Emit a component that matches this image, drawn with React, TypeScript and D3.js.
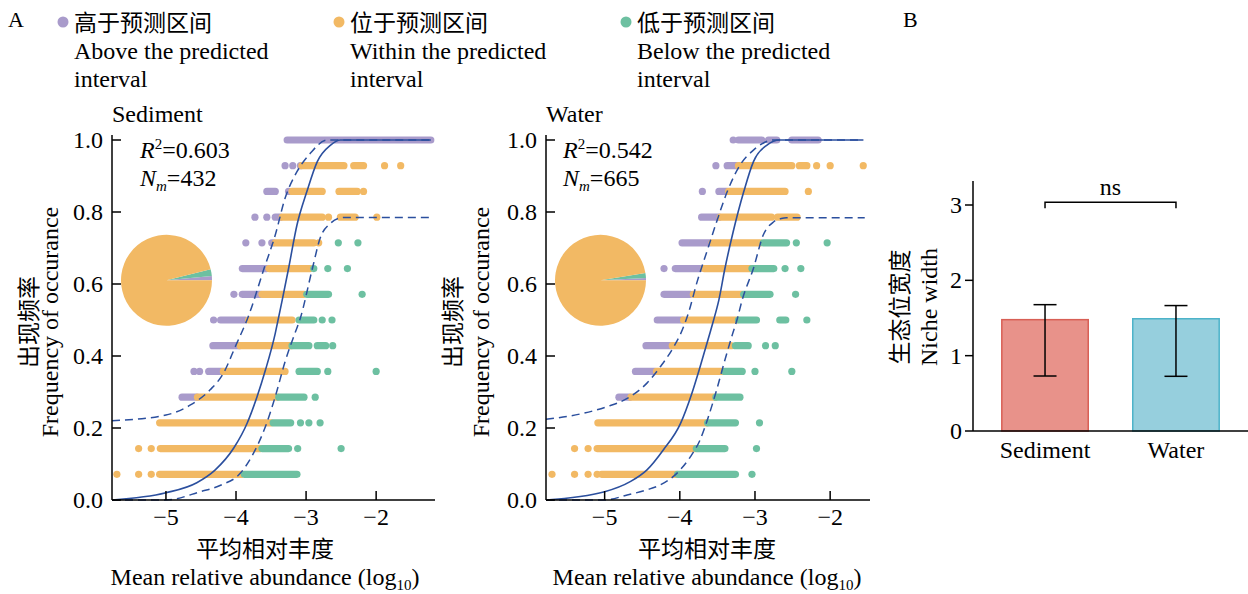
import React from "react";
import * as d3 from "d3";

// ---------------- DATA ----------------
const SAMPLES = 14; // occurrence frequency = k / SAMPLES
// runs: [k, x0, x1] — log10 mean relative abundance extents of dot runs in row k
const sedAbove: [number, number, number][] = [
  [4, -4.77, -4.56],
  [5, -4.6, -4.6], [5, -4.52, -4.52], [5, -4.39, -4.2],
  [6, -4.33, -3.96],
  [7, -4.32, -4.32], [7, -4.22, -3.87],
  [8, -4.03, -4.03], [8, -3.91, -3.65],
  [9, -3.91, -3.56],
  [10, -3.86, -3.86], [10, -3.63, -3.63], [10, -3.49, -3.47],
  [11, -3.73, -3.73], [11, -3.56, -3.56], [11, -3.44, -3.37],
  [12, -3.56, -3.44], [12, -3.25, -3.25],
  [13, -3.3, -3.3], [13, -3.19, -3.19], [13, -3.08, -3.08],
  [14, -3.27, -1.22],
];
const sedWithin: [number, number, number][] = [
  [1, -5.7, -5.7], [1, -5.39, -5.39], [1, -5.21, -5.21], [1, -5.09, -3.91],
  [2, -5.39, -5.39], [2, -5.21, -5.21], [2, -5.08, -3.65],
  [3, -5.09, -3.5],
  [4, -4.55, -3.41],
  [5, -4.18, -3.3],
  [6, -3.94, -3.22],
  [7, -3.82, -3.2],
  [8, -3.63, -3.03],
  [9, -3.53, -2.94],
  [10, -3.44, -2.89], [10, -2.82, -2.82],
  [11, -3.34, -2.77], [11, -2.68, -2.68], [11, -2.51, -2.3], [11, -1.99, -1.99],
  [12, -3.2, -2.77], [12, -2.53, -2.27], [12, -2.18, -2.18],
  [13, -3.06, -2.46], [13, -2.32, -2.18], [13, -1.88, -1.88], [13, -1.65, -1.65],
];
const sedBelow: [number, number, number][] = [
  [1, -3.88, -3.13],
  [2, -3.63, -3.25], [2, -3.12, -3.12], [2, -2.5, -2.5],
  [3, -3.47, -3.22], [3, -3.08, -3.08], [3, -2.96, -2.96], [3, -2.8, -2.8],
  [4, -3.39, -3.03], [4, -2.87, -2.87],
  [5, -3.1, -2.84], [5, -2.69, -2.69], [5, -2.0, -2.0],
  [6, -3.2, -2.96], [6, -2.84, -2.72], [6, -2.62, -2.62],
  [7, -3.1, -2.89], [7, -2.77, -2.77], [7, -2.63, -2.63],
  [8, -2.99, -2.68], [8, -2.2, -2.2],
  [9, -2.89, -2.89], [9, -2.69, -2.69], [9, -2.41, -2.41],
  [10, -2.54, -2.54], [10, -2.26, -2.26],
];
const sedFit: [number, number][] = [
  [-5.77, 0.0], [-5.0, 0.02], [-4.56, 0.048], [-4.3, 0.083], [-4.03, 0.145], [-3.84, 0.214],
  [-3.7, 0.287], [-3.58, 0.361], [-3.44, 0.463], [-3.4, 0.5], [-3.34, 0.556], [-3.25, 0.643],
  [-3.13, 0.764], [-2.99, 0.856], [-2.84, 0.94], [-2.65, 0.986], [-2.51, 1.0], [-1.22, 1.0],
];
const sedUpper: [number, number][] = [
  [-5.77, 0.22], [-5.0, 0.236], [-4.65, 0.264], [-4.37, 0.306], [-4.18, 0.352], [-4.01, 0.426],
  [-3.82, 0.512], [-3.6, 0.643], [-3.44, 0.736], [-3.3, 0.838], [-3.13, 0.912], [-2.94, 0.963],
  [-2.7, 1.0], [-1.22, 1.0],
];
const sedLower: [number, number][] = [
  [-5.77, 0.0], [-5.0, 0.0], [-4.51, 0.023], [-4.22, 0.041], [-3.94, 0.074], [-3.75, 0.13],
  [-3.58, 0.204], [-3.44, 0.287], [-3.3, 0.384], [-3.16, 0.463], [-3.09, 0.5], [-2.91, 0.643],
  [-2.8, 0.727], [-2.65, 0.769], [-2.53, 0.783], [-2.45, 0.785], [-1.22, 0.785],
];

const watAbove: [number, number, number][] = [
  [4, -4.81, -4.67],
  [5, -4.59, -4.33],
  [6, -4.45, -4.13],
  [7, -4.3, -3.97],
  [8, -4.21, -3.86],
  [9, -4.21, -4.21], [9, -4.06, -3.73],
  [10, -3.97, -3.6],
  [11, -3.71, -3.48],
  [12, -3.7, -3.7], [12, -3.48, -3.37],
  [13, -3.52, -3.52], [13, -3.37, -3.24],
  [14, -3.29, -3.29], [14, -3.22, -2.91], [14, -2.82, -2.71], [14, -2.51, -2.16],
];
const watWithin: [number, number, number][] = [
  [1, -5.7, -5.7], [1, -5.4, -5.4], [1, -5.22, -5.22], [1, -5.1, -5.1], [1, -5.04, -4.04],
  [2, -5.4, -5.4], [2, -5.22, -5.22], [2, -5.1, -3.79],
  [3, -5.09, -3.64],
  [4, -4.65, -3.53],
  [5, -4.31, -3.42],
  [6, -4.1, -3.32],
  [7, -3.95, -3.24],
  [8, -3.82, -3.17],
  [9, -3.68, -3.06],
  [10, -3.57, -2.93],
  [11, -3.46, -2.78], [11, -2.7, -2.44],
  [12, -3.35, -2.6], [12, -2.29, -2.29],
  [13, -3.22, -2.51], [13, -2.41, -2.31], [13, -2.18, -2.18], [13, -2.0, -2.0], [13, -1.56, -1.56],
];
const watBelow: [number, number, number][] = [
  [1, -4.03, -3.26], [1, -3.04, -3.04],
  [2, -3.78, -3.4], [2, -2.98, -2.98],
  [3, -3.63, -3.26], [3, -2.94, -2.94],
  [4, -3.52, -3.2],
  [5, -3.4, -3.17], [5, -3.0, -3.0], [5, -2.51, -2.51],
  [6, -3.26, -3.09], [6, -2.86, -2.86], [6, -2.73, -2.73],
  [7, -3.22, -2.98], [7, -2.67, -2.59], [7, -2.31, -2.31],
  [8, -3.15, -2.8], [8, -2.46, -2.46],
  [9, -3.04, -2.75], [9, -2.6, -2.6], [9, -2.39, -2.39],
  [10, -2.89, -2.58], [10, -2.45, -2.45], [10, -2.04, -2.04],
];
const watFit: [number, number][] = [
  [-5.78, 0.0], [-5.0, 0.023], [-4.66, 0.051], [-4.44, 0.083], [-4.22, 0.139], [-3.99, 0.213],
  [-3.84, 0.296], [-3.73, 0.37], [-3.6, 0.463], [-3.55, 0.5], [-3.48, 0.556], [-3.4, 0.643],
  [-3.29, 0.745], [-3.15, 0.856], [-3.02, 0.94], [-2.84, 0.986], [-2.67, 1.0], [-1.56, 1.0],
];
const watUpper: [number, number][] = [
  [-5.78, 0.224], [-5.28, 0.241], [-4.97, 0.259], [-4.7, 0.282], [-4.44, 0.324], [-4.26, 0.37],
  [-4.08, 0.426], [-3.95, 0.481], [-3.88, 0.523], [-3.77, 0.606], [-3.64, 0.69], [-3.51, 0.773],
  [-3.37, 0.856], [-3.2, 0.93], [-3.02, 0.972], [-2.75, 1.0], [-1.56, 1.0],
];
const watLower: [number, number][] = [
  [-5.78, 0.0], [-5.0, 0.0], [-4.7, 0.014], [-4.44, 0.028], [-4.26, 0.042], [-4.04, 0.074],
  [-3.86, 0.12], [-3.73, 0.167], [-3.62, 0.231], [-3.51, 0.306], [-3.4, 0.389], [-3.3, 0.46],
  [-3.24, 0.5], [-3.17, 0.556], [-3.02, 0.644], [-2.89, 0.736], [-2.75, 0.773], [-2.65, 0.782],
  [-2.58, 0.784], [-1.54, 0.784],
];

// pie fractions: above, below, within
const sedPie = [0.015, 0.024, 0.961];
const watPie = [0.008, 0.018, 0.974];

const sedStats = { r2: "0.603", nm: "432" };
const watStats = { r2: "0.542", nm: "665" };

const legendZh = ["高于预测区间", "位于预测区间", "低于预测区间"];
const legendEn1 = ["Above the predicted", "Within the predicted", "Below the predicted"];
const legendEn2 = ["interval", "interval", "interval"];

// panel B
const nicheCats = ["Sediment", "Water"];
const nicheMean = [1.478, 1.49];
const nicheLo = [0.73, 0.726];
const nicheHi = [1.677, 1.665];
const nicheTicks = [0, 1, 2, 3];

// ---------------- STYLE ----------------
const SERIF = "'Liberation Serif','Times New Roman',serif";
const CJK = "'Noto Sans CJK SC','Noto Sans CJK JP',sans-serif";
const C_ABOVE = "#A99BCB";
const C_WITHIN = "#F2B964";
const C_BELOW = "#6DC0A1";
const C_LINE = "#2B4F9E";
const DOT_R = 3.6;

type PanelProps = {
  title: string;
  axL: number;
  axR: number;
  domain: [number, number];
  above: [number, number, number][];
  within: [number, number, number][];
  below: [number, number, number][];
  fit: [number, number][];
  upper: [number, number][];
  lower: [number, number][];
  pie: number[];
  stats: { r2: string; nm: string };
  statX: number;
  zhX: number;
  enX: number;
  labelCx: number;
  pieCx: number;
};

function Runs({ runs, color, x, y }: any) {
  return (
    <g>
      {runs.map((r: [number, number, number], i: number) =>
        r[1] === r[2] ? (
          <circle key={i} cx={x(r[1])} cy={y(r[0] / SAMPLES)} r={DOT_R} fill={color} />
        ) : (
          <line
            key={i}
            x1={x(r[1])}
            x2={x(r[2])}
            y1={y(r[0] / SAMPLES)}
            y2={y(r[0] / SAMPLES)}
            stroke={color}
            strokeWidth={DOT_R * 2}
            strokeLinecap="round"
          />
        )
      )}
    </g>
  );
}

function ScatterPanel(p: PanelProps) {
  const x = d3.scaleLinear().domain(p.domain).range([p.axL, p.axR]);
  const y = d3.scaleLinear().domain([0, 1]).range([500, 140]);
  const line = d3
    .line<[number, number]>()
    .x((d) => x(d[0]))
    .y((d) => y(d[1]))
    .curve(d3.curveMonotoneX);
  const xt = x.ticks(4);
  const yt = y.ticks(5);
  const fmtY = d3.format(".1f");
  const fmtX = d3.format("d");
  const pie = d3
    .pie<number>()
    .sort(null)
    .value((d) => d)
    .startAngle(Math.PI / 2)
    .endAngle(Math.PI / 2 - 2 * Math.PI);
  const arc = d3.arc<d3.PieArcDatum<number>>().innerRadius(0).outerRadius(45.5);
  const pieColors = [C_ABOVE, C_BELOW, C_WITHIN];
  const midY = 322;
  return (
    <g>
      <text x={p.axL} y={122} fontFamily={SERIF} fontSize={24}>{p.title}</text>
      <Runs runs={p.above} color={C_ABOVE} x={x} y={y} />
      <Runs runs={p.within} color={C_WITHIN} x={x} y={y} />
      <Runs runs={p.below} color={C_BELOW} x={x} y={y} />
      <path d={line(p.upper) || ""} fill="none" stroke={C_LINE} strokeWidth={1.5} strokeDasharray="8,5" />
      <path d={line(p.lower) || ""} fill="none" stroke={C_LINE} strokeWidth={1.5} strokeDasharray="8,5" />
      <path d={line(p.fit) || ""} fill="none" stroke={C_LINE} strokeWidth={1.6} />
      <g transform={`translate(${p.pieCx},280.3)`}>
        {pie(p.pie).map((a, i) => (
          <path key={i} d={arc(a) || ""} fill={pieColors[i]} />
        ))}
      </g>
      {/* axes */}
      <line x1={p.axL} x2={p.axL} y1={500} y2={135} stroke="#000" strokeWidth={1.5} />
      <line x1={p.axL} x2={p.axR} y1={500} y2={500} stroke="#000" strokeWidth={1.5} />
      {yt.map((t) => (
        <g key={t}>
          <line x1={p.axL} x2={p.axL + 9} y1={y(t)} y2={y(t)} stroke="#000" strokeWidth={1.5} />
          <text x={p.axL - 9} y={y(t) + 8} textAnchor="end" fontFamily={SERIF} fontSize={24}>
            {fmtY(t)}
          </text>
        </g>
      ))}
      {xt.map((t) => (
        <g key={t}>
          <line x1={x(t)} x2={x(t)} y1={500} y2={491} stroke="#000" strokeWidth={1.5} />
          <text x={x(t)} y={525} textAnchor="middle" fontFamily={SERIF} fontSize={24}>
            {fmtX(t).replace("-", "\u2212")}
          </text>
        </g>
      ))}
      {/* stats */}
      <text x={p.statX} y={158} fontFamily={SERIF} fontSize={24}>
        <tspan fontStyle="italic">R</tspan>
        <tspan fontSize={15} dy={-9}>2</tspan>
        <tspan dy={9}>={p.stats.r2}</tspan>
      </text>
      <text x={p.statX} y={186} fontFamily={SERIF} fontSize={24}>
        <tspan fontStyle="italic">N</tspan>
        <tspan fontStyle="italic" fontSize={15} dy={5}>m</tspan>
        <tspan dy={-5}>={p.stats.nm}</tspan>
      </text>
      {/* y label */}
      <text transform={`translate(${p.zhX},${midY}) rotate(-90)`} textAnchor="middle" fontFamily={CJK} fontSize={23}>
        出现频率
      </text>
      <text transform={`translate(${p.enX},${midY}) rotate(-90)`} textAnchor="middle" fontFamily={SERIF} fontSize={24}>
        Frequency of occurance
      </text>
      {/* x label */}
      <text x={p.labelCx} y={557} textAnchor="middle" fontFamily={CJK} fontSize={23}>
        平均相对丰度
      </text>
      <text x={p.labelCx} y={585} textAnchor="middle" fontFamily={SERIF} fontSize={24}>
        Mean relative abundance (log
        <tspan fontSize={15} dy={5}>10</tspan>
        <tspan dy={-5}>)</tspan>
      </text>
    </g>
  );
}

function Legend() {
  const colors = [C_ABOVE, C_WITHIN, C_BELOW];
  const xs = [74, 350, 637];
  return (
    <g>
      {legendZh.map((t, i) => (
        <g key={i}>
          <circle cx={xs[i] - 11} cy={22} r={5.5} fill={colors[i]} />
          <text x={xs[i]} y={31} fontFamily={CJK} fontSize={23}>{t}</text>
          <text x={xs[i]} y={59} fontFamily={SERIF} fontSize={24}>{legendEn1[i]}</text>
          <text x={xs[i]} y={87} fontFamily={SERIF} fontSize={24}>{legendEn2[i]}</text>
        </g>
      ))}
    </g>
  );
}

function PanelB() {
  const x = d3.scaleBand<string>().domain(nicheCats).range([973, 1248]).paddingInner(0.34).paddingOuter(0.22);
  const y = d3.scaleLinear().domain([0, 3]).range([431, 205]);
  const fills = ["#E8928A", "#96CFDD"];
  const strokes = ["#D85F55", "#4DB3C9"];
  const bw = x.bandwidth();
  const c0 = (x(nicheCats[0]) || 0) + bw / 2;
  const c1 = (x(nicheCats[1]) || 0) + bw / 2;
  const bracketY = y(3) - 2.7;
  return (
    <g>
      {nicheCats.map((c, i) => {
        const bx = x(c) || 0;
        const cx = bx + bw / 2;
        return (
          <g key={c}>
            <rect x={bx} y={y(nicheMean[i])} width={bw} height={y(0) - y(nicheMean[i])} fill={fills[i]} stroke={strokes[i]} strokeWidth={1.5} />
            <line x1={cx} x2={cx} y1={y(nicheHi[i])} y2={y(nicheLo[i])} stroke="#000" strokeWidth={1.5} />
            <line x1={cx - 11.5} x2={cx + 11.5} y1={y(nicheHi[i])} y2={y(nicheHi[i])} stroke="#000" strokeWidth={1.5} />
            <line x1={cx - 11.5} x2={cx + 11.5} y1={y(nicheLo[i])} y2={y(nicheLo[i])} stroke="#000" strokeWidth={1.5} />
            <text x={cx} y={458} textAnchor="middle" fontFamily={SERIF} fontSize={24}>{c}</text>
          </g>
        );
      })}
      <line x1={973} x2={973} y1={431} y2={181} stroke="#000" strokeWidth={1.5} />
      <line x1={973} x2={1248} y1={431} y2={431} stroke="#000" strokeWidth={1.5} />
      {nicheTicks.map((t) => (
        <g key={t}>
          <line x1={965} x2={973} y1={y(t)} y2={y(t)} stroke="#000" strokeWidth={1.5} />
          <text x={962} y={y(t) + 8} textAnchor="end" fontFamily={SERIF} fontSize={24}>{t}</text>
        </g>
      ))}
      <path d={`M${c0},${bracketY + 6}V${bracketY}H${c1}V${bracketY + 6}`} fill="none" stroke="#000" strokeWidth={1.5} />
      <text x={(c0 + c1) / 2} y={195} textAnchor="middle" fontFamily={SERIF} fontSize={24}>ns</text>
      <text transform="translate(908,307) rotate(-90)" textAnchor="middle" fontFamily={CJK} fontSize={23}>生态位宽度</text>
      <text transform="translate(937,307) rotate(-90)" textAnchor="middle" fontFamily={SERIF} fontSize={24}>Niche width</text>
    </g>
  );
}

export default function App() {
  return (
    <svg width={1248} height={594} style={{ position: "absolute", left: 0, top: 0, background: "#fff" }}>
      <rect width={1248} height={594} fill="#fff" />
      <text x={8} y={27} fontFamily={SERIF} fontSize={22}>A</text>
      <text x={903} y={27} fontFamily={SERIF} fontSize={22}>B</text>
      <Legend />
      <ScatterPanel
        title="Sediment"
        axL={112}
        axR={435}
        domain={[-5.77, -1.16]}
        above={sedAbove}
        within={sedWithin}
        below={sedBelow}
        fit={sedFit}
        upper={sedUpper}
        lower={sedLower}
        pie={sedPie}
        stats={sedStats}
        statX={140}
        zhX={37}
        enX={58}
        labelCx={265}
        pieCx={166.5}
      />
      <ScatterPanel
        title="Water"
        axL={546}
        axR={870}
        domain={[-5.78, -1.47]}
        above={watAbove}
        within={watWithin}
        below={watBelow}
        fit={watFit}
        upper={watUpper}
        lower={watLower}
        pie={watPie}
        stats={watStats}
        statX={563}
        zhX={461}
        enX={489}
        labelCx={707}
        pieCx={600.5}
      />
      <PanelB />
    </svg>
  );
}
